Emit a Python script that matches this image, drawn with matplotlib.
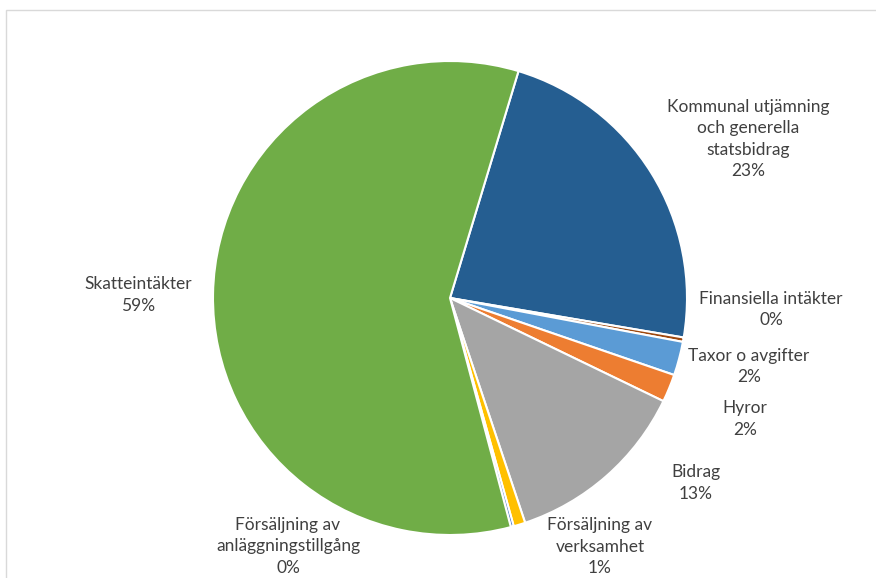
import matplotlib
matplotlib.use("Agg")
import matplotlib.pyplot as plt
from matplotlib.patches import Rectangle

categories = ["Kommunal utjämning\noch generella\nstatsbidrag", "Finansiella intäkter",
              "Taxor o avgifter", "Hyror", "Bidrag", "Försäljning av\nverksamhet",
              "Försäljning av\nanläggningstillgång", "Skatteintäkter"]
values = [23.0, 0.3, 2.3, 1.9, 12.7, 0.8, 0.2, 58.8]
pct_labels = ["23%", "0%", "2%", "2%", "13%", "1%", "0%", "59%"]
colors = ["#255E91", "#9E480E", "#5B9BD5", "#ED7D31", "#A5A5A5", "#FFC000", "#4472C4", "#70AD47"]

# label block centers in pixel coords
label_pos = [(748, 139), (771, 309.5), (749, 366.5), (745, 419), (696, 483),
             (600, 546.5), (288, 546.5), (138, 295)]

W, H = 876, 578
fig = plt.figure(figsize=(W / 100, H / 100), dpi=100)
ax = fig.add_axes([0, 0, 1, 1])
ax.set_xlim(0, W)
ax.set_ylim(0, H)
ax.set_aspect("equal")
ax.axis("off")

ax.add_patch(Rectangle((6, -20), W + 20, H - 10 + 20, fill=False, edgecolor="#D9D9D9", lw=1.0))

ax.pie(values, colors=colors, startangle=73.2, counterclock=False,
       center=(450, H - 298), radius=237,
       wedgeprops=dict(edgecolor="white", linewidth=1.5))

for cat, pct, (x, y) in zip(categories, pct_labels, label_pos):
    ax.text(x, H - y, cat + "\n" + pct, ha="center", va="center",
            fontsize=12.5, color="#404040", family=["Lato", "DejaVu Sans"],
            linespacing=1.42)

ax.set_xlim(0, W)
ax.set_ylim(0, H)
fig.savefig("out.png", dpi=100)
